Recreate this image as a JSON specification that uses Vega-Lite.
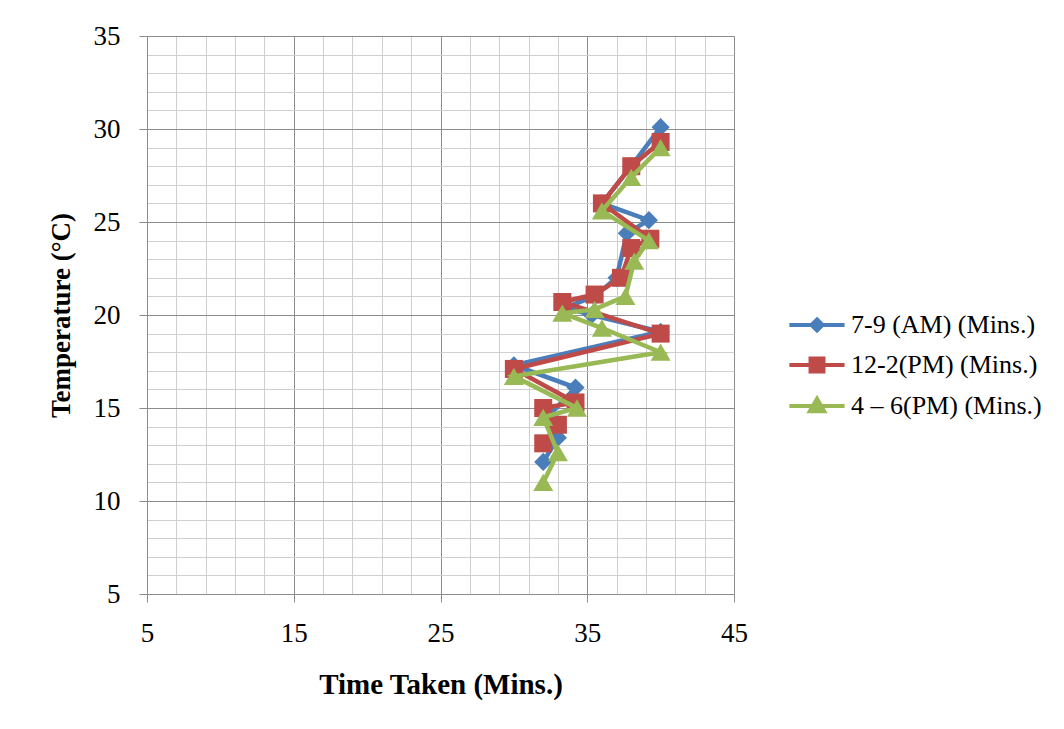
{
  "$schema": "https://vega.github.io/schema/vega-lite/v6.json",
  "autosize": {"type": "none"},
  "width": 587,
  "height": 558,
  "padding": {"left": 147, "top": 36, "right": 330, "bottom": 135},
  "background": "white",
  "config": {
    "view": {"stroke": null},
    "font": "Liberation Serif"
  },
  "data": {
    "values": [
      {"series": "7-9 (AM) (Mins.)", "i": 1, "time": 32, "temp": 12.1},
      {"series": "7-9 (AM) (Mins.)", "i": 2, "time": 33, "temp": 13.4},
      {"series": "7-9 (AM) (Mins.)", "i": 3, "time": 32.4, "temp": 14.6},
      {"series": "7-9 (AM) (Mins.)", "i": 4, "time": 34.2, "temp": 16.1},
      {"series": "7-9 (AM) (Mins.)", "i": 5, "time": 30, "temp": 17.3},
      {"series": "7-9 (AM) (Mins.)", "i": 6, "time": 40, "temp": 19.1},
      {"series": "7-9 (AM) (Mins.)", "i": 7, "time": 35.3, "temp": 20},
      {"series": "7-9 (AM) (Mins.)", "i": 8, "time": 33.5, "temp": 20.4},
      {"series": "7-9 (AM) (Mins.)", "i": 9, "time": 35.5, "temp": 21},
      {"series": "7-9 (AM) (Mins.)", "i": 10, "time": 37, "temp": 22},
      {"series": "7-9 (AM) (Mins.)", "i": 11, "time": 37.7, "temp": 24.4},
      {"series": "7-9 (AM) (Mins.)", "i": 12, "time": 39.2, "temp": 25.1},
      {"series": "7-9 (AM) (Mins.)", "i": 13, "time": 36, "temp": 26},
      {"series": "7-9 (AM) (Mins.)", "i": 14, "time": 38, "temp": 28},
      {"series": "7-9 (AM) (Mins.)", "i": 15, "time": 40, "temp": 30.1},
      {"series": "12-2(PM) (Mins.)", "i": 1, "time": 32, "temp": 13.1},
      {"series": "12-2(PM) (Mins.)", "i": 2, "time": 33, "temp": 14.1},
      {"series": "12-2(PM) (Mins.)", "i": 3, "time": 32, "temp": 15},
      {"series": "12-2(PM) (Mins.)", "i": 4, "time": 34.2, "temp": 15.3},
      {"series": "12-2(PM) (Mins.)", "i": 5, "time": 30, "temp": 17.1},
      {"series": "12-2(PM) (Mins.)", "i": 6, "time": 40, "temp": 19},
      {"series": "12-2(PM) (Mins.)", "i": 7, "time": 33.3, "temp": 20.7},
      {"series": "12-2(PM) (Mins.)", "i": 8, "time": 35.5, "temp": 21.1},
      {"series": "12-2(PM) (Mins.)", "i": 9, "time": 37.3, "temp": 22},
      {"series": "12-2(PM) (Mins.)", "i": 10, "time": 38, "temp": 23.6},
      {"series": "12-2(PM) (Mins.)", "i": 11, "time": 39.3, "temp": 24.1},
      {"series": "12-2(PM) (Mins.)", "i": 12, "time": 36, "temp": 26},
      {"series": "12-2(PM) (Mins.)", "i": 13, "time": 38, "temp": 28},
      {"series": "12-2(PM) (Mins.)", "i": 14, "time": 40, "temp": 29.3},
      {"series": "4 – 6(PM) (Mins.)", "i": 1, "time": 32, "temp": 11},
      {"series": "4 – 6(PM) (Mins.)", "i": 2, "time": 33, "temp": 12.6},
      {"series": "4 – 6(PM) (Mins.)", "i": 3, "time": 32, "temp": 14.5},
      {"series": "4 – 6(PM) (Mins.)", "i": 4, "time": 34.3, "temp": 15},
      {"series": "4 – 6(PM) (Mins.)", "i": 5, "time": 30, "temp": 16.7},
      {"series": "4 – 6(PM) (Mins.)", "i": 6, "time": 40, "temp": 18},
      {"series": "4 – 6(PM) (Mins.)", "i": 7, "time": 36, "temp": 19.3},
      {"series": "4 – 6(PM) (Mins.)", "i": 8, "time": 33.3, "temp": 20.1},
      {"series": "4 – 6(PM) (Mins.)", "i": 9, "time": 35.5, "temp": 20.3},
      {"series": "4 – 6(PM) (Mins.)", "i": 10, "time": 37.6, "temp": 21},
      {"series": "4 – 6(PM) (Mins.)", "i": 11, "time": 38.2, "temp": 22.9},
      {"series": "4 – 6(PM) (Mins.)", "i": 12, "time": 39.2, "temp": 24},
      {"series": "4 – 6(PM) (Mins.)", "i": 13, "time": 36, "temp": 25.6},
      {"series": "4 – 6(PM) (Mins.)", "i": 14, "time": 38, "temp": 27.4},
      {"series": "4 – 6(PM) (Mins.)", "i": 15, "time": 40, "temp": 29}
    ]
  },
  "encoding": {
    "x": {
      "field": "time", "type": "quantitative",
      "scale": {"domain": [5, 45], "nice": false, "zero": false},
      "axis": {
        "title": "Time Taken (Mins.)",
        "values": [5,7,9,11,13,15,17,19,21,23,25,27,29,31,33,35,37,39,41,43,45],
        "labelExpr": "(datum.value - 5) % 10 === 0 ? datum.label : ''",
        "grid": true,
        "gridColor": {"condition": {"test": "(datum.value - 5) % 10 === 0", "value": "#8c8c8c"}, "value": "#cfcfcf"},
        "gridWidth": 1,
        "tickOpacity": {"condition": {"test": "(datum.value - 5) % 10 === 0", "value": 1}, "value": 0},
        "tickColor": "#8c8c8c",
        "tickSize": 8,
        "domainColor": "#8c8c8c",
        "labelFont": "Liberation Serif",
        "labelFontSize": 27,
        "labelColor": "black",
        "labelPadding": 18,
        "labelFlush": false,
        "titleFont": "Liberation Serif",
        "titleFontSize": 29,
        "titleFontWeight": "bold",
        "titleColor": "black",
        "titlePadding": 24
      }
    },
    "y": {
      "field": "temp", "type": "quantitative",
      "scale": {"domain": [5, 35], "nice": false, "zero": false},
      "axis": {
        "title": "Temperature (°C)",
        "values": [5,6,7,8,9,10,11,12,13,14,15,16,17,18,19,20,21,22,23,24,25,26,27,28,29,30,31,32,33,34,35],
        "labelExpr": "datum.value % 5 === 0 ? datum.label : ''",
        "grid": true,
        "gridColor": {"condition": {"test": "datum.value % 5 === 0", "value": "#8c8c8c"}, "value": "#cfcfcf"},
        "gridWidth": 1,
        "tickOpacity": {"condition": {"test": "datum.value % 5 === 0", "value": 1}, "value": 0},
        "tickColor": "#8c8c8c",
        "tickSize": 8,
        "domainColor": "#8c8c8c",
        "labelFont": "Liberation Serif",
        "labelFontSize": 27,
        "labelColor": "black",
        "labelPadding": 19,
        "labelFlush": false,
        "titleFont": "Liberation Serif",
        "titleFontSize": 27,
        "titleFontWeight": "bold",
        "titleColor": "black",
        "titlePadding": 18
      }
    },
    "color": {
      "field": "series", "type": "nominal",
      "scale": {
        "domain": ["7-9 (AM) (Mins.)", "12-2(PM) (Mins.)", "4 – 6(PM) (Mins.)"],
        "range": ["#4A7EBB", "#BE4B48", "#98B954"]
      },
      "legend": {
        "title": null,
        "orient": "none",
        "legendX": 644,
        "legendY": 263,
        "padding": 0,
        "rowPadding": 0,
        "symbolSize": 2304,
        "symbolStrokeWidth": 4,
        "labelOffset": 8,
        "labelFont": "Liberation Serif",
        "labelFontSize": 26,
        "labelColor": "black",
        "labelLimit": 400,
        "encode": {
          "symbols": {
            "update": {
              "shape": {"signal": "datum.value === '7-9 (AM) (Mins.)' ? 'M-1.15,0H1.15M0,-0.23L0.23,0L0,0.23L-0.23,0Z' : datum.value === '12-2(PM) (Mins.)' ? 'M-1.15,0H1.15M-0.27,-0.27H0.27V0.27H-0.27Z' : 'M-1.15,0H1.15M0,-0.3L0.3,0.22H-0.3Z'"},
              "fill": {"signal": "scale('color', datum.value)"},
              "stroke": {"signal": "scale('color', datum.value)"},
              "strokeWidth": {"value": 4},
              "opacity": {"value": 1}
            }
          }
        }
      }
    }
  },
  "layer": [
    {
      "transform": [{"filter": "datum.series === '7-9 (AM) (Mins.)'"}],
      "mark": {"type": "line", "strokeWidth": 4.5},
      "encoding": {"order": {"field": "i", "type": "quantitative"}}
    },
    {
      "transform": [{"filter": "datum.series === '7-9 (AM) (Mins.)'"}],
      "mark": {"type": "point", "shape": "diamond", "filled": true, "size": 330, "opacity": 1}
    },
    {
      "transform": [{"filter": "datum.series === '12-2(PM) (Mins.)'"}],
      "mark": {"type": "line", "strokeWidth": 4.5},
      "encoding": {"order": {"field": "i", "type": "quantitative"}}
    },
    {
      "transform": [{"filter": "datum.series === '12-2(PM) (Mins.)'"}],
      "mark": {"type": "point", "shape": "square", "filled": true, "size": 324, "opacity": 1}
    },
    {
      "transform": [{"filter": "datum.series === '4 – 6(PM) (Mins.)'"}],
      "mark": {"type": "line", "strokeWidth": 4.5},
      "encoding": {"order": {"field": "i", "type": "quantitative"}}
    },
    {
      "transform": [{"filter": "datum.series === '4 – 6(PM) (Mins.)'"}],
      "mark": {"type": "point", "shape": "triangle-up", "filled": true, "size": 400, "opacity": 1}
    }
  ]
}
